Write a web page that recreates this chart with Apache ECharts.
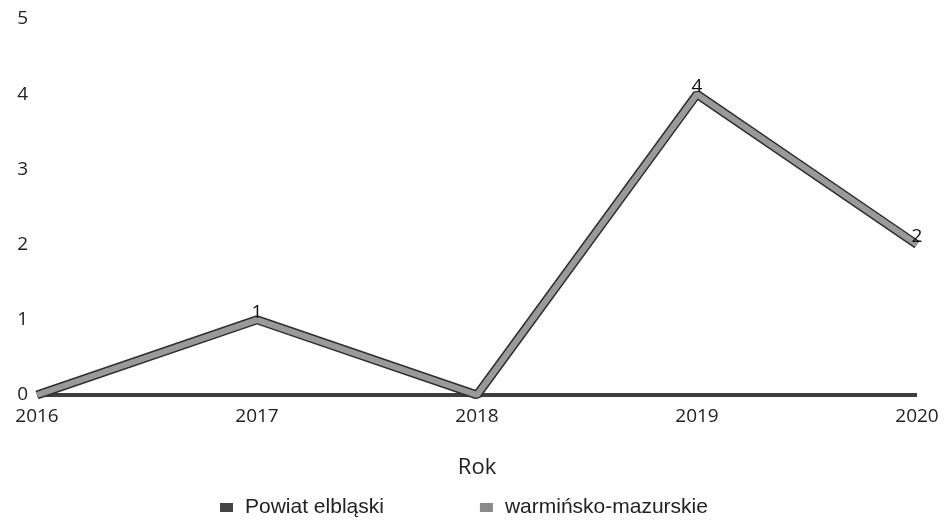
<!DOCTYPE html>
<html>
<head>
<meta charset="utf-8">
<script src="https://cdn.jsdelivr.net/npm/echarts@6/dist/echarts.min.js"></script>
<style>
  html, body { margin: 0; padding: 0; background: #fff; }
  #chart { width: 945px; height: 528px; }
</style>
</head>
<body>
<div id="chart"></div>
<script>
var years = ["2016", "2017", "2018", "2019", "2020"];
var powiatValues = [0, 0, 0, 0, 0];
var wojValues = [0, 1, 0, 4, 2];
var yTicks = [0, 1, 2, 3, 4, 5];

var chart = echarts.init(document.getElementById("chart"));
var axisFont = "'Open Sans', 'Noto Sans', sans-serif";

chart.setOption({
  animation: false,
  grid: {
    left: 37,
    right: 28,
    top: 19,
    bottom: 133,
  },
  legend: {
    data: ["Powiat elbląski", "warmińsko-mazurskie"],
    bottom: 5,
    left: 215,
    itemGap: 96,
    icon: "rect",
    itemWidth: 13,
    itemHeight: 9,
    textStyle: {
      fontFamily: "'Liberation Sans', Arial, sans-serif",
      fontSize: 21,
      color: "#222",
      padding: [0, 0, 0, 7],
    },
  },
  xAxis: {
    type: "category",
    data: years,
    boundaryGap: false,
    name: "Rok",
    nameLocation: "middle",
    nameGap: 62,
    nameTextStyle: { fontFamily: axisFont, fontSize: 22, color: "#222" },
    axisLine: { show: false },
    axisTick: { show: false },
    axisLabel: {
      fontFamily: axisFont,
      fontSize: 19,
      color: "#222",
      margin: 12,
    },
  },
  yAxis: {
    type: "value",
    min: 0,
    max: 5,
    interval: 1,
    axisLine: { show: false },
    axisTick: { show: false },
    splitLine: { show: false },
    axisLabel: {
      fontFamily: axisFont,
      fontSize: 19,
      color: "#222",
      margin: 9,
      formatter: function (v) {
        return yTicks.indexOf(v) >= 0 ? String(v) : "";
      },
    },
  },
  series: [
    {
      name: "Powiat elbląski",
      type: "line",
      data: powiatValues,
      showSymbol: false,
      z: 2,
      lineStyle: { color: "#3f3f3f", width: 4 },
      itemStyle: { color: "#444" },
    },
    {
      name: "warmińsko-mazurskie-border",
      type: "line",
      data: wojValues,
      showSymbol: false,
      z: 3,
      lineStyle: { color: "#2e2e2e", width: 9 },
      itemStyle: { color: "#2e2e2e" },
      silent: true,
    },
    {
      name: "warmińsko-mazurskie",
      type: "line",
      data: wojValues,
      symbol: "circle",
      showSymbol: true,
      symbolSize: 0.1,
      z: 4,
      lineStyle: { color: "#9a9a9a", width: 6 },
      itemStyle: { color: "#8a8a8a" },
      label: {
        show: true,
        position: "top",
        distance: -2,
        fontFamily: axisFont,
        fontSize: 19,
        color: "#111",
        formatter: function (p) {
          return p.value === 0 ? "" : String(p.value);
        },
      },
    },
  ],
});
</script>
</body>
</html>
